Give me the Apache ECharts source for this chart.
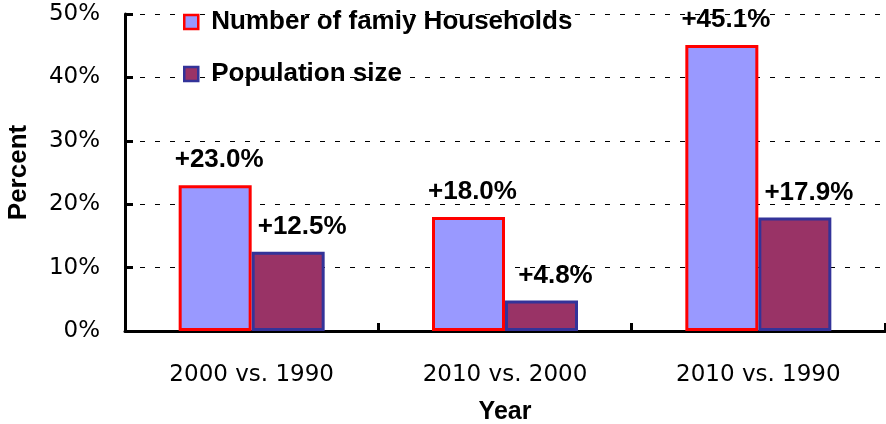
<!DOCTYPE html>
<html>
<head>
<meta charset="utf-8">
<script src="https://cdn.jsdelivr.net/npm/echarts@6/dist/echarts.min.js"></script>
<style>
  html, body { margin: 0; padding: 0; background: #fff; }
  #chart { width: 886px; height: 424px; }
</style>
</head>
<body>
<div id="chart"></div>
<script>
// data
const categories = ['2000 vs. 1990', '2010 vs. 2000', '2010 vs. 1990']
const households = [23.0, 18.0, 45.1]
const population = [12.5, 4.8, 17.9]
const yTicks = { min: 0, max: 50, interval: 10 }

const chart = echarts.init(document.getElementById('chart'))

const pctLabel = p => '+' + p.value.toFixed(1) + '%'
const boldFont = 'Liberation Sans, Arial, sans-serif'

const option = {
  animation: false,
  backgroundColor: '#fff',
  grid: { left: 125, right: 1, top: 14, bottom: 93, outerBoundsMode: 'none', containLabel: false },
  legend: {
    orient: 'vertical',
    left: 183,
    top: 9,
    padding: 0,
    icon: 'rect',
    itemWidth: 14,
    itemHeight: 14,
    itemGap: 26,
    itemStyle: { borderWidth: 2.5 },
    textStyle: { fontFamily: boldFont, fontWeight: 'bold', fontSize: 26, color: '#000', padding: [0, 0, 0, 8] }
  },
  xAxis: {
    type: 'category',
    data: categories,
    name: 'Year',
    nameLocation: 'middle',
    nameGap: 69,
    nameTextStyle: { fontFamily: boldFont, fontWeight: 'bold', fontSize: 25, color: '#000' },
    axisLine: { lineStyle: { color: '#000', width: 3 } },
    axisTick: { show: true, inside: true, length: 8, lineStyle: { color: '#000', width: 3 } },
    axisLabel: { margin: 33, fontFamily: 'DejaVu Sans', fontSize: 23, color: '#000' }
  },
  yAxis: {
    type: 'value',
    min: yTicks.min,
    max: yTicks.max,
    interval: yTicks.interval,
    name: 'Percent',
    nameLocation: 'middle',
    nameGap: 93,
    nameTextStyle: { fontFamily: boldFont, fontWeight: 'bold', fontSize: 26, color: '#000' },
    axisLine: { show: true, lineStyle: { color: '#000', width: 3 } },
    axisTick: { show: true, inside: true, length: 8, lineStyle: { color: '#000', width: 3 } },
    axisLabel: {
      margin: 25, fontFamily: 'DejaVu Sans', fontSize: 23, color: '#000',
      padding: [7, 0, 0, 0], formatter: '{value}%'
    },
    splitLine: { lineStyle: { color: '#000', width: 1, type: [5, 10] } }
  },
  series: [
    {
      name: 'Number of famiy Households',
      type: 'bar',
      data: households,
      barWidth: 73,
      barGap: '0%',
      itemStyle: { color: '#9999ff', borderColor: '#ff0000', borderWidth: 3 },
      label: {
        show: true, position: 'top', distance: 12, offset: [4, 0],
        formatter: pctLabel,
        fontFamily: boldFont, fontWeight: 'bold', fontSize: 26, color: '#000'
      }
    },
    {
      name: 'Population size',
      type: 'bar',
      data: population,
      barWidth: 73,
      itemStyle: { color: '#993366', borderColor: '#333399', borderWidth: 3 },
      label: {
        show: true, position: 'top', distance: 12, offset: [14, 0],
        formatter: pctLabel,
        fontFamily: boldFont, fontWeight: 'bold', fontSize: 26, color: '#000'
      }
    }
  ]
}
chart.setOption(option)
</script>
</body>
</html>
